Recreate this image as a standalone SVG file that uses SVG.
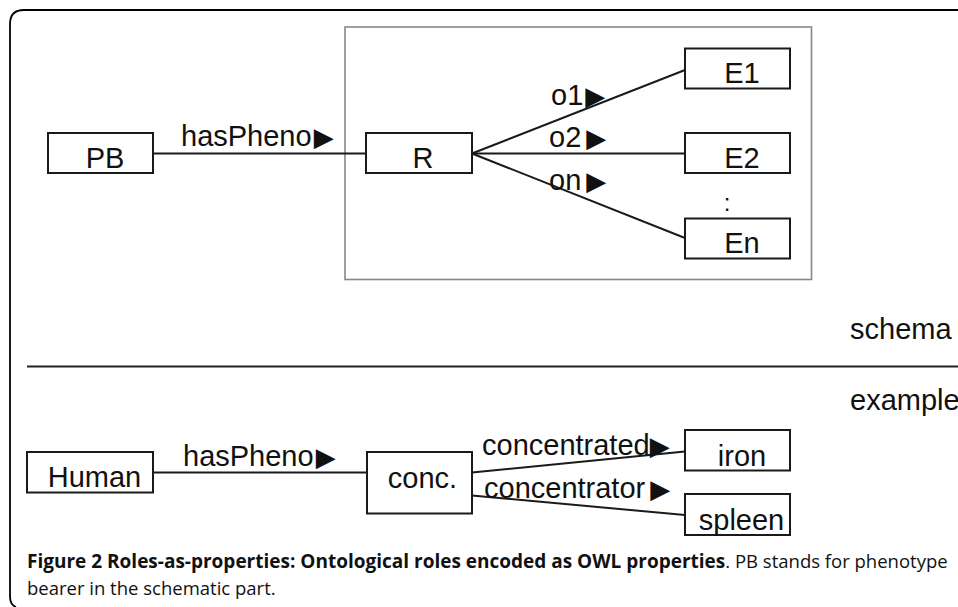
<svg xmlns="http://www.w3.org/2000/svg" width="958" height="607" viewBox="0 0 958 607">
<style>
.box{fill:#fff;stroke:#1a1a1a;stroke-width:2}
.lbl{font-family:"Liberation Sans",Arial,sans-serif;font-size:29px;fill:#111}
.tri{font-family:"DejaVu Sans",sans-serif;font-size:26px}
.edge{stroke:#1a1a1a;stroke-width:2;fill:none}
.cap{font-family:"Open Sans","Noto Sans",sans-serif;fill:#111}
</style>
<rect width="958" height="607" fill="#fff"/>
<path d="M958,10 H24 Q10,10 10,24 V596 Q10,605 16,607" fill="none" stroke="#000" stroke-width="1.8"/>
<rect id="schema-frame" x="345" y="27" width="466.5" height="252.5" fill="none" stroke="#888" stroke-width="1.6"/>
<line x1="27" y1="366.5" x2="958" y2="366.5" stroke="#222" stroke-width="2"/>
<g id="connectors">
<path class="edge" d="M153,153.5 H366"/>
<path class="edge" d="M472,153.5 L685,70"/>
<path class="edge" d="M472,153.5 H685"/>
<path class="edge" d="M472,153.5 L685,238"/>
<path class="edge" d="M153,472.5 H367"/>
<path class="edge" d="M472,472.5 L685,451.5"/>
<path class="edge" d="M472,495.5 L685,515"/>
<text class="lbl" x="181" y="146">hasPheno<tspan class="tri" dx="2">▶</tspan></text>
<text class="lbl" x="551" y="105">o1<tspan class="tri" dx="2">▶</tspan></text>
<text class="lbl" x="549" y="147">o2<tspan class="tri" dx="5">▶</tspan></text>
<text class="lbl" x="549" y="190">on<tspan class="tri" dx="5">▶</tspan></text>
<text class="lbl" x="183" y="466">hasPheno<tspan class="tri" dx="2">▶</tspan></text>
<text class="lbl" x="482" y="455">concentrated<tspan class="tri">▶</tspan></text>
<text class="lbl" x="484" y="497.5">concentrator<tspan class="tri" dx="5">▶</tspan></text>
</g>
<g id="PB"><rect class="box" x="48" y="133" width="105" height="40"/><text class="lbl" x="105" y="168" text-anchor="middle">PB</text></g>
<g id="R"><rect class="box" x="366" y="133" width="106" height="40"/><text class="lbl" x="423" y="168" text-anchor="middle">R</text></g>
<g id="E1"><rect class="box" x="685" y="48.5" width="105" height="40"/><text class="lbl" x="742" y="83" text-anchor="middle">E1</text></g>
<g id="E2"><rect class="box" x="685" y="133" width="105" height="40"/><text class="lbl" x="742" y="168" text-anchor="middle">E2</text></g>
<g id="dots"><text class="lbl" x="727" y="211" text-anchor="middle" style="font-size:24px">:</text></g>
<g id="En"><rect class="box" x="685" y="218.5" width="105" height="40"/><text class="lbl" x="742" y="253" text-anchor="middle">En</text></g>
<g id="schema-label"><text class="lbl" x="850" y="339">schema</text></g>
<g id="example-label"><text class="lbl" x="850" y="410">example</text></g>
<g id="Human"><rect class="box" x="27" y="452" width="126" height="40.5"/><text class="lbl" x="94.5" y="487" text-anchor="middle">Human</text></g>
<g id="conc"><rect class="box" x="367" y="452" width="105" height="61.5"/><text class="lbl" x="422.5" y="488" text-anchor="middle">conc.</text></g>
<g id="iron"><rect class="box" x="685" y="430" width="105" height="40.5"/><text class="lbl" x="742" y="465.5" text-anchor="middle">iron</text></g>
<g id="spleen"><rect class="box" x="685" y="494" width="105" height="41"/><text class="lbl" x="741.5" y="530" text-anchor="middle">spleen</text></g>
<g id="caption">
<text class="cap" x="27" y="568"><tspan font-weight="bold" font-size="19px">Figure 2 Roles-as-properties: Ontological roles encoded as OWL properties</tspan><tspan font-size="18.5px">. PB stands for phenotype</tspan></text>
<text class="cap" x="27" y="595" font-size="18.5px">bearer in the schematic part.</text>
</g>
</svg>
